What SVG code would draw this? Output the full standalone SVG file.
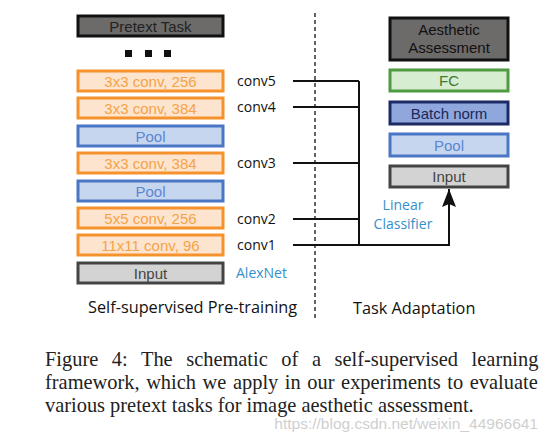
<svg xmlns="http://www.w3.org/2000/svg" width="551" height="442" viewBox="0 0 551 442">
<style>
.box{stroke-width:3}
.dark{fill:#6d6a6a;stroke:#111}
.conv{fill:#fde4cf;stroke:#f5922c}
.pool{fill:#c7d6ef;stroke:#4a76c6}
.inp{fill:#d3d3d3;stroke:#444}
.fc{fill:#d7edd2;stroke:#4f9b40}
.bn{fill:#8fa7dc;stroke:#1c2a66}
.bt{font-family:"Liberation Sans",Arial,sans-serif;font-size:15px;text-anchor:middle}
.lab{font-family:"Open Sans","Noto Sans",sans-serif;font-size:14px;fill:#111}
.big{font-size:16.3px}
.blue{fill:#3590c9}
.line{stroke:#111;stroke-width:2;fill:none}
.cap{font-family:"Liberation Serif","Times New Roman",serif;font-size:20.4px;fill:#222}
</style>
<defs>
<marker id="ah" markerWidth="18" markerHeight="14" refX="18" refY="7" orient="auto" markerUnits="userSpaceOnUse" viewBox="0 0 18 14">
<path d="M0,0 L18,7 L0,14 L3,7 Z" fill="#111"/>
</marker>
</defs>
<rect width="551" height="442" fill="#fff"/>

<g id="pretext"><rect class="box dark" x="78" y="16" width="145" height="20"/><text class="bt" x="150.5" y="31.5" fill="#222">Pretext Task</text></g>
<g id="dots"><rect x="125" y="50" width="7" height="7" fill="#111"/><rect x="145" y="50" width="7" height="7" fill="#111"/><rect x="164" y="50" width="7" height="7" fill="#111"/></g>
<g id="conv5"><rect class="box conv" x="78" y="71" width="145" height="20"/><text class="bt" x="150.5" y="86.5" fill="#f5a347">3x3 conv, 256</text></g>
<g id="conv4"><rect class="box conv" x="78" y="98" width="145" height="20"/><text class="bt" x="150.5" y="113.5" fill="#f5a347">3x3 conv, 384</text></g>
<g id="pool1"><rect class="box pool" x="78" y="126" width="145" height="20"/><text class="bt" x="150.5" y="141.5" fill="#5a86d2">Pool</text></g>
<g id="conv3"><rect class="box conv" x="78" y="153" width="145" height="20"/><text class="bt" x="150.5" y="168.5" fill="#f5a347">3x3 conv, 384</text></g>
<g id="pool2"><rect class="box pool" x="78" y="181" width="145" height="20"/><text class="bt" x="150.5" y="196.5" fill="#5a86d2">Pool</text></g>
<g id="conv2"><rect class="box conv" x="78" y="208" width="145" height="20"/><text class="bt" x="150.5" y="223.5" fill="#f5a347">5x5 conv, 256</text></g>
<g id="conv1"><rect class="box conv" x="78" y="235" width="145" height="20"/><text class="bt" x="150.5" y="250.5" fill="#f5a347">11x11 conv, 96</text></g>
<g id="input1"><rect class="box inp" x="78" y="263" width="145" height="20"/><text class="bt" x="150.5" y="278.5" fill="#444">Input</text></g>

<g id="labels">
<text class="lab" x="237" y="86">conv5</text>
<text class="lab" x="237" y="112">conv4</text>
<text class="lab" x="237" y="168">conv3</text>
<text class="lab" x="237" y="224">conv2</text>
<text class="lab" x="237" y="250">conv1</text>
<text class="lab blue" x="236" y="278" font-size="14.8">AlexNet</text>
<text class="lab big" x="88" y="313">Self-supervised Pre-training</text>
<text class="lab big" x="353" y="314">Task Adaptation</text>
<text class="lab blue" x="403" y="210" text-anchor="middle" font-size="15.5">Linear</text>
<text class="lab blue" x="403" y="229" text-anchor="middle" font-size="15.5">Classifier</text>
</g>

<g id="aesthetic"><rect class="box dark" x="390" y="18" width="118" height="42"/><text class="bt" x="449" y="35" fill="#111">Aesthetic</text><text class="bt" x="449" y="53" fill="#111">Assessment</text></g>
<g id="fc"><rect class="box fc" x="390" y="70" width="118" height="21"/><text class="bt" x="449" y="86" fill="#3c7a30">FC</text></g>
<g id="bn"><rect class="box bn" x="390" y="102" width="118" height="22"/><text class="bt" x="449" y="118.5" fill="#1a2858">Batch norm</text></g>
<g id="pool3"><rect class="box pool" x="390" y="134" width="118" height="22"/><text class="bt" x="449" y="150.5" fill="#5a86d2">Pool</text></g>
<g id="input2"><rect class="box inp" x="390" y="166" width="118" height="21"/><text class="bt" x="449" y="182" fill="#444">Input</text></g>

<g id="connectors">
<line x1="315" y1="13" x2="315" y2="320" stroke="#111" stroke-width="1.3" stroke-dasharray="4,3"/>
<path class="line" d="M293,81 H359 M293,107 H359 M293,163 H359 M293,219 H359 M359,81 V245"/>
<path class="line" d="M293,245 H449 V189" marker-end="url(#ah)"/>
</g>

<g id="caption">
<text class="cap" x="45" y="366" word-spacing="8.5">Figure 4: The schematic of a self-supervised learning</text>
<text class="cap" x="45" y="389" word-spacing="1.5">framework, which we apply in our experiments to evaluate</text>
<text class="cap" x="45" y="412">various pretext tasks for image aesthetic assessment.</text>
<text x="538" y="429" text-anchor="end" font-family="Liberation Sans,Arial,sans-serif" font-size="15.5" fill="#cfcfcf">https://blog.csdn.net/weixin_44966641</text>
</g>
</svg>
